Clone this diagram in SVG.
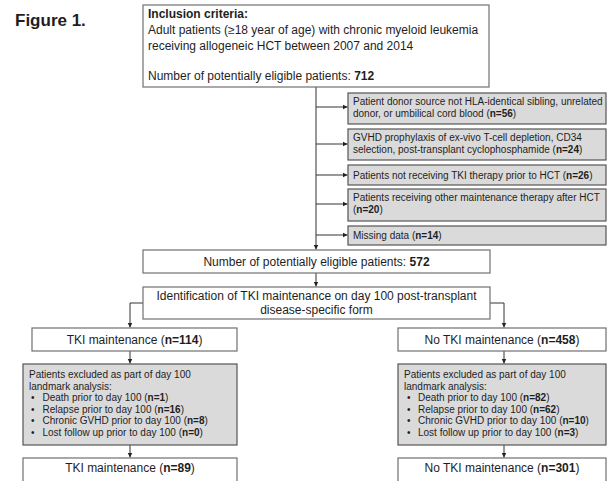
<svg xmlns="http://www.w3.org/2000/svg" width="609" height="481" viewBox="0 0 609 481">
<defs>
<marker id="ah" markerWidth="6" markerHeight="6" refX="5" refY="3" orient="auto" markerUnits="userSpaceOnUse">
<path d="M0,0.5 L5,3 L0,5.5 Z" fill="#222"/>
</marker>
<style>
text{font-family:"Liberation Sans",Arial,sans-serif;fill:#1e1e1e}
.t12{font-size:12px}
.t10{font-size:10px}
.c{text-anchor:middle}
.b{font-weight:bold}
.wbox{fill:#fff;stroke:#707070;stroke-width:1.2}
.gbox{fill:#dadada;stroke:#555;stroke-width:1.2}
.conn{fill:none;stroke:#333;stroke-width:1}
</style>
</defs>
<rect width="609" height="481" fill="#fff"/>
<text x="15" y="26" class="b" style="font-size:17px">Figure 1.</text>

<g id="connectors">
<path class="conn" d="M316,87 V249.5" marker-end="url(#ah)"/>
<path class="conn" d="M316,107 H347.5" marker-end="url(#ah)"/>
<path class="conn" d="M316,144 H347.5" marker-end="url(#ah)"/>
<path class="conn" d="M316,175 H347.5" marker-end="url(#ah)"/>
<path class="conn" d="M316,204 H347.5" marker-end="url(#ah)"/>
<path class="conn" d="M316,235 H347.5" marker-end="url(#ah)"/>
<path class="conn" d="M316,273 V286.5" marker-end="url(#ah)"/>
<path class="conn" d="M143,303 H130 V327.5" marker-end="url(#ah)"/>
<path class="conn" d="M490,303 H504 V327.5" marker-end="url(#ah)"/>
<path class="conn" d="M130,351 V363.5" marker-end="url(#ah)"/>
<path class="conn" d="M504,351 V363.5" marker-end="url(#ah)"/>
<path class="conn" d="M130,445 V457.5" marker-end="url(#ah)"/>
<path class="conn" d="M504,445 V457.5" marker-end="url(#ah)"/>
</g>

<g id="inclusion">
<rect class="wbox" x="143" y="5" width="346" height="82"/>
<text class="t12 b" x="148" y="18">Inclusion criteria:</text>
<text class="t12" x="148" y="34">Adult patients (≥18 year of age) with chronic myeloid leukemia</text>
<text class="t12" x="148" y="50">receiving allogeneic HCT between 2007 and 2014</text>
<text class="t12" x="148" y="80">Number of potentially eligible patients: <tspan class="b">712</tspan></text>
</g>

<g id="excl1">
<rect class="gbox" x="348" y="93" width="258" height="31"/>
<text class="t10" x="353" y="104.5">Patient donor source not HLA-identical sibling, unrelated</text>
<text class="t10" x="353" y="116.5">donor, or umbilical cord blood (<tspan class="b">n=56</tspan>)</text>
</g>
<g id="excl2">
<rect class="gbox" x="348" y="129" width="258" height="31"/>
<text class="t10" x="353" y="141">GVHD prophylaxis of ex-vivo T-cell depletion, CD34</text>
<text class="t10" x="353" y="153">selection, post-transplant cyclophosphamide (<tspan class="b">n=24</tspan>)</text>
</g>
<g id="excl3">
<rect class="gbox" x="348" y="165" width="258" height="20"/>
<text class="t10" x="353" y="178.5">Patients not receiving TKI therapy prior to HCT (<tspan class="b">n=26</tspan>)</text>
</g>
<g id="excl4">
<rect class="gbox" x="348" y="189" width="258" height="32"/>
<text class="t10" x="353" y="200.5">Patients receiving other maintenance therapy after HCT</text>
<text class="t10" x="353" y="213">(<tspan class="b">n=20</tspan>)</text>
</g>
<g id="excl5">
<rect class="gbox" x="348" y="226" width="258" height="19"/>
<text class="t10" x="353" y="239">Missing data (<tspan class="b">n=14</tspan>)</text>
</g>

<g id="eligible572">
<rect class="wbox" x="143" y="250" width="347" height="23"/>
<text class="t12 c" x="316.5" y="266">Number of potentially eligible patients: <tspan class="b">572</tspan></text>
</g>

<g id="identification">
<rect class="wbox" x="143" y="287" width="347" height="32"/>
<text class="t12 c" x="316.5" y="300">Identification of TKI maintenance on day 100 post-transplant</text>
<text class="t12 c" x="316.5" y="314">disease-specific form</text>
</g>

<g id="tki114">
<rect class="wbox" x="32" y="328" width="205" height="23"/>
<text class="t12 c" x="134.5" y="344">TKI maintenance (<tspan class="b">n=114</tspan>)</text>
</g>
<g id="notki458">
<rect class="wbox" x="398" y="328" width="208" height="23"/>
<text class="t12 c" x="502" y="344">No TKI maintenance (<tspan class="b">n=458</tspan>)</text>
</g>

<g id="exclTKI">
<rect class="gbox" x="23" y="364" width="214" height="81"/>
<text class="t10" x="29" y="378">Patients excluded as part of day 100</text>
<text class="t10" x="29" y="389.6">landmark analysis:</text>
<text class="t10" x="31" y="401.2">•</text><text class="t10" x="42.5" y="401.2">Death prior to day 100 (<tspan class="b">n=1</tspan>)</text>
<text class="t10" x="31" y="412.8">•</text><text class="t10" x="42.5" y="412.8">Relapse prior to day 100 (<tspan class="b">n=16</tspan>)</text>
<text class="t10" x="31" y="424.4">•</text><text class="t10" x="42.5" y="424.4">Chronic GVHD prior to day 100 (<tspan class="b">n=8</tspan>)</text>
<text class="t10" x="31" y="436">•</text><text class="t10" x="42.5" y="436">Lost follow up prior to day 100 (<tspan class="b">n=0</tspan>)</text>
</g>
<g id="exclNoTKI">
<rect class="gbox" x="398" y="364" width="208" height="81"/>
<text class="t10" x="404" y="378">Patients excluded as part of day 100</text>
<text class="t10" x="404" y="389.6">landmark analysis:</text>
<text class="t10" x="407" y="401.2">•</text><text class="t10" x="418" y="401.2">Death prior to day 100 (<tspan class="b">n=82</tspan>)</text>
<text class="t10" x="407" y="412.8">•</text><text class="t10" x="418" y="412.8">Relapse prior to day 100 (<tspan class="b">n=62</tspan>)</text>
<text class="t10" x="407" y="424.4">•</text><text class="t10" x="418" y="424.4">Chronic GVHD prior to day 100 (<tspan class="b">n=10</tspan>)</text>
<text class="t10" x="407" y="436">•</text><text class="t10" x="418" y="436">Lost follow up prior to day 100 (<tspan class="b">n=3</tspan>)</text>
</g>

<g id="tki89">
<rect class="wbox" x="23" y="458" width="214" height="30"/>
<text class="t12 c" x="130" y="472">TKI maintenance (<tspan class="b">n=89</tspan>)</text>
</g>
<g id="notki301">
<rect class="wbox" x="398" y="458" width="208" height="30"/>
<text class="t12 c" x="502" y="472">No TKI maintenance (<tspan class="b">n=301</tspan>)</text>
</g>
</svg>
